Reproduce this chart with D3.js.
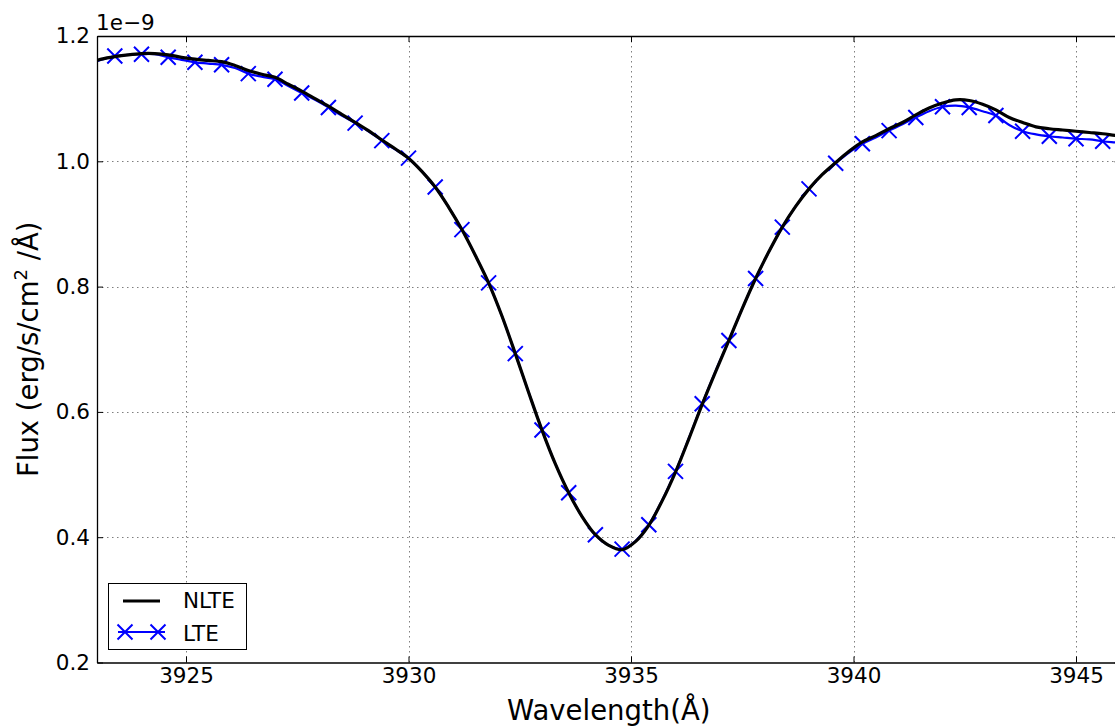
<!DOCTYPE html>
<html>
<head>
<meta charset="utf-8">
<script src="https://cdn.jsdelivr.net/npm/d3@7"></script>
<style>
  html, body { margin: 0; padding: 0; background: #fff; }
  svg { display: block; font-family: "DejaVu Sans", sans-serif; }
</style>
</head>
<body>
<svg id="chart" width="1115" height="727"></svg>
<script>
// ---- data ----
const wavelength = [
  3922.8, 3923.1, 3923.4, 3923.7, 3924.0, 3924.3, 3924.6, 3924.9, 3925.2, 3925.5,
  3925.8, 3926.1, 3926.4, 3926.7, 3927.0, 3927.3, 3927.6, 3927.9, 3928.2, 3928.5,
  3928.8, 3929.1, 3929.4, 3929.7, 3930.0, 3930.3, 3930.6, 3930.9, 3931.2, 3931.5,
  3931.8, 3932.1, 3932.4, 3932.7, 3933.0, 3933.3, 3933.6, 3933.9, 3934.2, 3934.5,
  3934.8, 3935.1, 3935.4, 3935.7, 3936.0, 3936.3, 3936.6, 3936.9, 3937.2, 3937.5,
  3937.8, 3938.1, 3938.4, 3938.7, 3939.0, 3939.3, 3939.6, 3939.9, 3940.2, 3940.5,
  3940.8, 3941.1, 3941.4, 3941.7, 3942.0, 3942.3, 3942.6, 3942.9, 3943.2, 3943.5,
  3943.8, 3944.1, 3944.4, 3944.7, 3945.0, 3945.3, 3945.6, 3945.9, 3946.2
];
// flux in units of 1e-9 erg/s/cm^2/A
const fluxNLTE = [
  1.157, 1.163, 1.167, 1.170, 1.172, 1.172, 1.170, 1.166, 1.163, 1.161,
  1.159, 1.153, 1.145, 1.139, 1.134, 1.123, 1.112, 1.100, 1.088, 1.075,
  1.062, 1.049, 1.034, 1.020, 1.005, 0.984, 0.959, 0.927, 0.891, 0.850,
  0.806, 0.753, 0.693, 0.631, 0.571, 0.517, 0.471, 0.433, 0.404, 0.387,
  0.380, 0.393, 0.419, 0.458, 0.504, 0.557, 0.612, 0.664, 0.714, 0.765,
  0.813, 0.856, 0.895, 0.928, 0.956, 0.979, 0.998, 1.016, 1.031, 1.041,
  1.052, 1.062, 1.074, 1.085, 1.093, 1.098, 1.097, 1.091, 1.082, 1.070,
  1.062, 1.055, 1.052, 1.050, 1.048, 1.046, 1.044, 1.041, 1.039
];
const fluxLTE = [
  1.156, 1.162, 1.168, 1.170, 1.171, 1.171, 1.166, 1.162, 1.158, 1.156,
  1.154, 1.149, 1.140, 1.135, 1.131, 1.120, 1.109, 1.098, 1.086, 1.073,
  1.061, 1.048, 1.033, 1.019, 1.005, 0.984, 0.959, 0.927, 0.891, 0.850,
  0.806, 0.753, 0.693, 0.631, 0.571, 0.517, 0.471, 0.433, 0.404, 0.387,
  0.381, 0.394, 0.420, 0.459, 0.505, 0.558, 0.613, 0.665, 0.714, 0.765,
  0.813, 0.856, 0.895, 0.928, 0.956, 0.979, 0.997, 1.014, 1.028, 1.038,
  1.049, 1.059, 1.070, 1.080, 1.087, 1.089, 1.086, 1.080, 1.073, 1.058,
  1.048, 1.043, 1.040, 1.038, 1.036, 1.035, 1.032, 1.030, 1.028
];
const lteMarkerIndex = [2,4,6,8,10,12,14,16,18,20,22,24,26,28,30,32,34,36,38,40,
  42,44,46,48,50,52,54,56,58,60,62,64,66,68,70,72,74,76];
const xTicks = [3925, 3930, 3935, 3940, 3945];
const yTicks = [0.2, 0.4, 0.6, 0.8, 1.0, 1.2];
const seriesNames = ["NLTE", "LTE"];
const seriesColors = ["#000000", "#0000ff"];

// ---- layout ----
const W = 1115, H = 727;
const L = 97, R = 1120.5, T = 36, B = 662.5;
const svg = d3.select("#chart");
const x = d3.scaleLinear().domain([3923, 3946]).range([L, R]);
const y = d3.scaleLinear().domain([0.2, 1.2]).range([B, T]);
const FONT = 21.5;

svg.append("rect").attr("width", W).attr("height", H).attr("fill", "#fff");

svg.append("defs").append("clipPath").attr("id", "plotclip")
  .append("rect").attr("x", L).attr("y", T).attr("width", R - L).attr("height", B - T);

// grid
const grid = svg.append("g").attr("stroke", "#7f7f7f").attr("stroke-width", 1)
  .attr("stroke-dasharray", "1.5,3.5");
grid.selectAll("line.v").data(xTicks).join("line").attr("class", "v")
  .attr("x1", d => Math.round(x(d)) + 0.5).attr("x2", d => Math.round(x(d)) + 0.5)
  .attr("y1", T).attr("y2", B);
grid.selectAll("line.h").data(yTicks.filter(d => d > 0.2 && d < 1.2)).join("line").attr("class", "h")
  .attr("y1", d => Math.round(y(d)) + 0.5).attr("y2", d => Math.round(y(d)) + 0.5)
  .attr("x1", L).attr("x2", R);

// data
const plot = svg.append("g").attr("clip-path", "url(#plotclip)");
const lteData = wavelength.map((w, i) => [w, fluxLTE[i]]);
const nlteData = wavelength.map((w, i) => [w, fluxNLTE[i]]);
const line = d3.line().x(d => x(d[0])).y(d => y(d[1])).curve(d3.curveCatmullRom.alpha(0.5));

plot.append("path").datum(lteData).attr("fill", "none")
  .attr("stroke", seriesColors[1]).attr("stroke-width", 2.2).attr("stroke-linejoin", "round").attr("d", line);
const xMark = "M-7.5,-7.5L7.5,7.5M-7.5,7.5L7.5,-7.5";
plot.selectAll("path.mk").data(lteMarkerIndex).join("path").attr("class", "mk")
  .attr("transform", i => `translate(${x(wavelength[i])},${y(fluxLTE[i])})`)
  .attr("d", xMark).attr("stroke", seriesColors[1]).attr("stroke-width", 2).attr("fill", "none");
plot.append("path").datum(nlteData).attr("fill", "none")
  .attr("stroke", seriesColors[0]).attr("stroke-width", 3.2).attr("stroke-linejoin", "round").attr("d", line);

// axes (ticks inside, as in the reference)
const xAxisB = d3.axisBottom(x).tickValues(xTicks).tickFormat(d3.format("d"))
  .tickSizeInner(-6).tickSizeOuter(0).tickPadding(5);
const gxb = svg.append("g").attr("transform", `translate(0,${B})`).call(xAxisB);
const xAxisT = d3.axisTop(x).tickValues(xTicks).tickFormat("").tickSizeInner(-6).tickSizeOuter(0);
const gxt = svg.append("g").attr("transform", `translate(0,${T})`).call(xAxisT);
const yAxisL = d3.axisLeft(y).tickValues(yTicks).tickFormat(d3.format(".1f"))
  .tickSizeInner(-6).tickSizeOuter(0).tickPadding(7);
const gyl = svg.append("g").attr("transform", `translate(${L},0)`).call(yAxisL);
const yAxisR = d3.axisRight(y).tickValues(yTicks).tickFormat("").tickSizeInner(-6).tickSizeOuter(0);
const gyr = svg.append("g").attr("transform", `translate(${R},0)`).call(yAxisR);

[gxb, gxt, gyl, gyr].forEach(g => {
  g.select(".domain").attr("stroke", "#000").attr("stroke-width", 1.3);
  g.selectAll(".tick line").attr("stroke", "#000").attr("stroke-width", 1);
  g.selectAll(".tick text").attr("fill", "#000").attr("font-size", FONT)
    .attr("font-family", "DejaVu Sans, sans-serif");
});

// offset label
svg.append("text").attr("x", 96).attr("y", 30).attr("font-size", FONT).text("1e\u22129");

// axis labels
svg.append("text").attr("x", (L + R) / 2).attr("y", 720).attr("text-anchor", "middle")
  .attr("font-size", 27.5).text("Wavelength(\u00C5)");
const yl = svg.append("text")
  .attr("transform", `translate(38,${(T + B) / 2}) rotate(-90)`)
  .attr("text-anchor", "middle").attr("font-size", 27.5);
yl.append("tspan").text("Flux (erg/s/cm");
yl.append("tspan").attr("dy", -11).attr("font-size", 18).text("2");
yl.append("tspan").attr("dy", 11).text(" /\u00C5)");

// legend
const lg = svg.append("g");
lg.append("rect").attr("x", 108.5).attr("y", 583.5).attr("width", 138).attr("height", 66)
  .attr("fill", "#fff").attr("stroke", "#000").attr("stroke-width", 1);
lg.append("line").attr("x1", 123).attr("x2", 160).attr("y1", 601).attr("y2", 601)
  .attr("stroke", seriesColors[0]).attr("stroke-width", 3.2);
lg.append("line").attr("x1", 118).attr("x2", 165).attr("y1", 632).attr("y2", 632)
  .attr("stroke", seriesColors[1]).attr("stroke-width", 2.2);
lg.selectAll("path.lm").data([125, 158]).join("path").attr("class", "lm")
  .attr("transform", d => `translate(${d},632)`).attr("d", xMark)
  .attr("stroke", seriesColors[1]).attr("stroke-width", 2).attr("fill", "none");
lg.selectAll("text.lt").data(seriesNames).join("text").attr("class", "lt")
  .attr("x", 183).attr("y", (d, i) => 608 + i * 33).attr("font-size", FONT).text(d => d);
</script>
</body>
</html>
